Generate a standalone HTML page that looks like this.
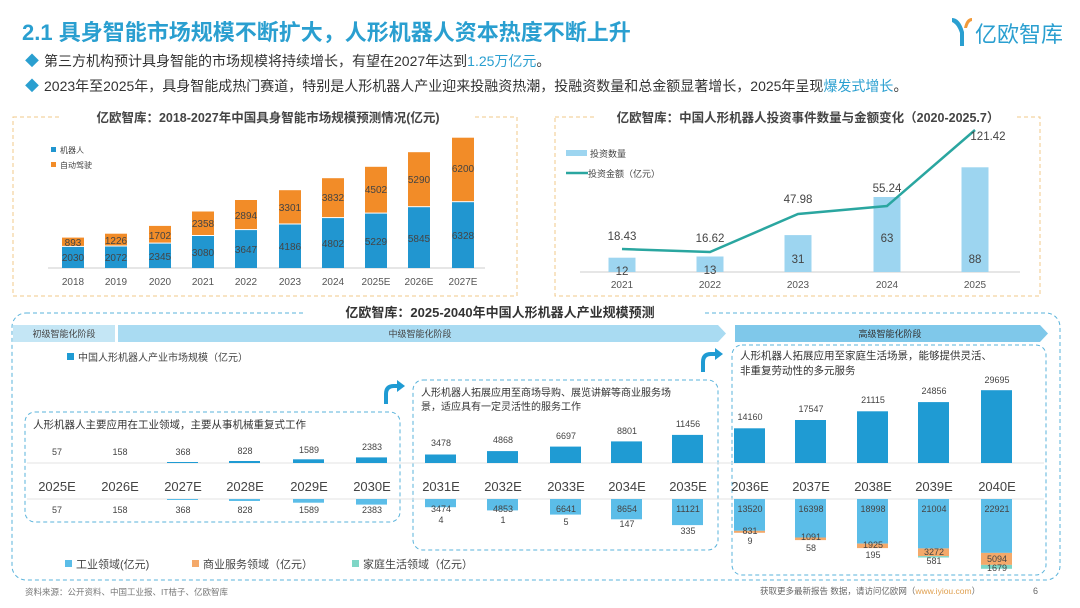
<!DOCTYPE html>
<html><head><meta charset="utf-8"><style>
body{margin:0;background:#fff;}
svg{display:block;font-family:"Liberation Sans","Noto Sans CJK SC",sans-serif;}
</style></head><body>
<svg width="1080" height="608" viewBox="0 0 1080 608" xmlns="http://www.w3.org/2000/svg">
<rect width="1080" height="608" fill="#fff"/>
<text x="22" y="40" font-size="22" font-weight="bold" fill="#2a9fd0">2.1 具身智能市场规模不断扩大，人形机器人资本热度不断上升</text>
<g fill="#2a9fd0"><path d="M952 18 q8 0 12 14 l0 14 l-4 0 l0 -13 q-3 -9 -8 -11z"/><path d="M972 18 q-6 0 -8 10 l3 0 q2 -7 5 -7z" fill="#f29a3a"/></g>
<text x="975" y="42" font-size="22" fill="#2a9fd0">亿欧智库</text>
<text x="25" y="66" font-size="14" fill="#2a9fd0">◆</text>
<text x="44" y="66" font-size="14" fill="#333">第三方机构预计具身智能的市场规模将持续增长，有望在2027年达到<tspan fill="#2a9fd0">1.25万亿元</tspan>。</text>
<text x="25" y="91" font-size="14" fill="#2a9fd0">◆</text>
<text x="44" y="91" font-size="14" fill="#333">2023年至2025年，具身智能成热门赛道，特别是人形机器人产业迎来投融资热潮，投融资数量和总金额显著增长，2025年呈现<tspan fill="#2a9fd0">爆发式增长</tspan>。</text>

<rect x="13" y="117" width="504" height="179" fill="none" stroke="#f0c98a" stroke-dasharray="4,3"/>
<rect x="62" y="108" width="412" height="18" fill="#fff"/>
<text x="268" y="122" font-size="12.5" font-weight="bold" fill="#444" text-anchor="middle">亿欧智库：2018-2027年中国具身智能市场规模预测情况(亿元)</text>
<rect x="51" y="147" width="5" height="5" fill="#2196d0"/><text x="60" y="153" font-size="8" fill="#444">机器人</text>
<rect x="51" y="162" width="5" height="5" fill="#f28c28"/><text x="60" y="168" font-size="8" fill="#444">自动驾驶</text>
<line x1="48" y1="268" x2="485" y2="268" stroke="#ccc"/>
<g fill="#2196d0">
<rect x="62" y="246.9" width="22" height="21.1"/><rect x="105" y="246.5" width="22" height="21.5"/><rect x="149" y="243.6" width="22" height="24.4"/><rect x="192" y="236" width="22" height="32"/><rect x="235" y="230.1" width="22" height="37.9"/><rect x="279" y="224.5" width="22" height="43.5"/><rect x="322" y="218.1" width="22" height="49.9"/><rect x="365" y="213.6" width="22" height="54.4"/><rect x="408" y="207.2" width="22" height="60.8"/><rect x="452" y="202.2" width="22" height="65.8"/>
</g>
<g fill="#f28c28">
<rect x="62" y="237.6" width="22" height="8.3"/><rect x="105" y="233.7" width="22" height="11.8"/><rect x="149" y="225.9" width="22" height="16.7"/><rect x="192" y="211.5" width="22" height="23.5"/><rect x="235" y="200" width="22" height="29.1"/><rect x="279" y="190.2" width="22" height="33.3"/><rect x="322" y="178.2" width="22" height="38.9"/><rect x="365" y="166.8" width="22" height="45.8"/><rect x="408" y="152.2" width="22" height="54"/><rect x="452" y="137.7" width="22" height="63.5"/>
</g>
<g font-size="10" fill="#444" text-anchor="middle">
<text x="73" y="261">2030</text><text x="116" y="261">2072</text><text x="160" y="260">2345</text><text x="203" y="256">3080</text><text x="246" y="253">3647</text><text x="290" y="250">4186</text><text x="333" y="247">4802</text><text x="376" y="245">5229</text><text x="419" y="242">5845</text><text x="463" y="239">6328</text>
<text x="73" y="246">893</text><text x="116" y="244">1226</text><text x="160" y="239">1702</text><text x="203" y="227">2358</text><text x="246" y="219">2894</text><text x="290" y="211">3301</text><text x="333" y="201">3832</text><text x="376" y="193">4502</text><text x="419" y="183">5290</text><text x="463" y="172">6200</text>
</g>
<g font-size="10" fill="#555" text-anchor="middle">
<text x="73" y="285">2018</text><text x="116" y="285">2019</text><text x="160" y="285">2020</text><text x="203" y="285">2021</text><text x="246" y="285">2022</text><text x="290" y="285">2023</text><text x="333" y="285">2024</text><text x="376" y="285">2025E</text><text x="419" y="285">2026E</text><text x="463" y="285">2027E</text>
</g>

<rect x="555" y="117" width="485" height="179" fill="none" stroke="#f0c98a" stroke-dasharray="4,3"/>
<rect x="595" y="108" width="420" height="18" fill="#fff"/>
<text x="808" y="122" font-size="12.5" font-weight="bold" fill="#444" text-anchor="middle">亿欧智库：中国人形机器人投资事件数量与金额变化（2020-2025.7）</text>
<rect x="566" y="150" width="21" height="6" fill="#9dd5f0"/><text x="590" y="157" font-size="9" fill="#444">投资数量</text>
<line x1="566" y1="173" x2="588" y2="173" stroke="#2aa6a0" stroke-width="2.5"/><text x="588" y="177" font-size="9" fill="#444">投资金额（亿元）</text>
<line x1="580" y1="272" x2="1020" y2="272" stroke="#ccc"/>
<g fill="#9dd5f0">
<rect x="608.5" y="257.7" width="27" height="14.3"/><rect x="696.5" y="256.5" width="27" height="15.5"/><rect x="784.5" y="235.1" width="27" height="36.9"/><rect x="873.5" y="197" width="27" height="75"/><rect x="961.5" y="167.3" width="27" height="104.7"/>
</g>
<polyline points="622,249 710,252 798,214 887,206 975,130" fill="none" stroke="#2aa6a0" stroke-width="2.5"/>
<g font-size="11.5" fill="#444" text-anchor="middle">
<text x="622" y="240">18.43</text><text x="710" y="242">16.62</text><text x="798" y="203">47.98</text><text x="887" y="192">55.24</text><text x="988" y="140">121.42</text>
<text x="622" y="275">12</text><text x="710" y="274">13</text><text x="798" y="263">31</text><text x="887" y="242">63</text><text x="975" y="263">88</text>
</g>
<g font-size="10" fill="#555" text-anchor="middle">
<text x="622" y="288">2021</text><text x="710" y="288">2022</text><text x="798" y="288">2023</text><text x="887" y="288">2024</text><text x="975" y="288">2025</text>
</g>

<rect x="12" y="313" width="1048" height="267" rx="14" fill="none" stroke="#5ab3db" stroke-dasharray="4,3"/>
<rect x="305" y="302" width="400" height="20" fill="#fff"/>
<text x="500" y="317" font-size="13" font-weight="bold" fill="#333" text-anchor="middle">亿欧智库：2025-2040年中国人形机器人产业规模预测</text>
<rect x="13" y="325" width="102" height="17" fill="#c4e6f5"/>
<text x="64" y="337" font-size="9" fill="#444" text-anchor="middle">初级智能化阶段</text>
<path d="M118 325 L718 325 L726 333.5 L718 342 L118 342 Z" fill="#a9dbf2"/>
<text x="420" y="337" font-size="9" fill="#444" text-anchor="middle">中级智能化阶段</text>
<path d="M735 325 L1040 325 L1048 333.5 L1040 342 L735 342 Z" fill="#7fc8ea"/>
<text x="890" y="337" font-size="9" fill="#333" text-anchor="middle">高级智能化阶段</text>
<rect x="67" y="353" width="7" height="7" fill="#1f9bd3"/>
<text x="78" y="361" font-size="10" fill="#444">中国人形机器人产业市场规模（亿元）</text>
<path d="M386 404 L386 394 Q386 386 394 386 L398 386" fill="none" stroke="#1f9bd3" stroke-width="4"/><path d="M397 380 L405 386 L397 392Z" fill="#1f9bd3"/>
<path d="M703 372 L703 362 Q703 354 711 354 L716 354" fill="none" stroke="#1f9bd3" stroke-width="4"/><path d="M715 348 L723 354 L715 360Z" fill="#1f9bd3"/>
<rect x="25" y="412" width="375" height="110" rx="10" fill="none" stroke="#5ab3db" stroke-dasharray="4,3"/>
<rect x="413" y="380" width="305" height="170" rx="10" fill="none" stroke="#5ab3db" stroke-dasharray="4,3"/>
<rect x="732" y="345" width="314" height="230" rx="10" fill="none" stroke="#5ab3db" stroke-dasharray="4,3"/>
<text x="33" y="428" font-size="10.5" fill="#333">人形机器人主要应用在工业领域，主要从事机械重复式工作</text>
<text x="421" y="396" font-size="10" fill="#333">人形机器人拓展应用至商场导购、展览讲解等商业服务场</text>
<text x="421" y="410" font-size="10" fill="#333">景，适应具有一定灵活性的服务工作</text>
<text x="740" y="359" font-size="10.5" fill="#333">人形机器人拓展应用至家庭生活场景，能够提供灵活、</text>
<text x="740" y="374" font-size="10.5" fill="#333">非重复劳动性的多元服务</text>
<line x1="27" y1="463" x2="1044" y2="463" stroke="#e3e3e3"/>
<line x1="27" y1="499" x2="1044" y2="499" stroke="#e3e3e3"/>
<g fill="#1f9bd3">
<rect x="167" y="462" width="31" height="1"/><rect x="229" y="461" width="31" height="2"/><rect x="293" y="459.3" width="31" height="3.7"/><rect x="356" y="457.4" width="31" height="5.6"/>
<rect x="425" y="454.5" width="31" height="8.5"/><rect x="487" y="451.1" width="31" height="11.9"/><rect x="550" y="446.6" width="31" height="16.4"/><rect x="611" y="441.4" width="31" height="21.6"/><rect x="672" y="434.9" width="31" height="28.1"/>
<rect x="734" y="428.3" width="31" height="34.7"/><rect x="795" y="420" width="31" height="43"/><rect x="857" y="411.3" width="31" height="51.7"/><rect x="918" y="402.1" width="31" height="60.9"/><rect x="981" y="390.2" width="31" height="72.8"/>
</g>
<g font-size="9" fill="#444" text-anchor="middle">
<text x="57" y="455">57</text><text x="120" y="455">158</text><text x="183" y="455">368</text><text x="245" y="454">828</text><text x="309" y="453">1589</text><text x="372" y="450">2383</text>
<text x="441" y="446">3478</text><text x="503" y="443">4868</text><text x="566" y="439">6697</text><text x="627" y="434">8801</text><text x="688" y="427">11456</text>
<text x="750" y="420">14160</text><text x="811" y="412">17547</text><text x="873" y="403">21115</text><text x="934" y="394">24856</text><text x="997" y="383">29695</text>
</g>
<g font-size="13" fill="#444" text-anchor="middle">
<text x="57" y="491">2025E</text><text x="120" y="491">2026E</text><text x="183" y="491">2027E</text><text x="245" y="491">2028E</text><text x="309" y="491">2029E</text><text x="372" y="491">2030E</text>
<text x="441" y="491">2031E</text><text x="503" y="491">2032E</text><text x="566" y="491">2033E</text><text x="627" y="491">2034E</text><text x="688" y="491">2035E</text>
<text x="750" y="491">2036E</text><text x="811" y="491">2037E</text><text x="873" y="491">2038E</text><text x="934" y="491">2039E</text><text x="997" y="491">2040E</text>
</g>
<g fill="#5bbde8">
<rect x="167" y="499" width="31" height="1"/><rect x="229" y="499" width="31" height="2"/><rect x="293" y="499" width="31" height="3.7"/><rect x="356" y="499" width="31" height="5.6"/>
<rect x="425" y="499" width="31" height="8.2"/><rect x="487" y="499" width="31" height="11.4"/><rect x="550" y="499" width="31" height="15.6"/><rect x="611" y="499" width="31" height="20.3"/><rect x="672" y="499" width="31" height="26.1"/>
<rect x="734" y="499" width="31" height="31.8"/><rect x="795" y="499" width="31" height="38.5"/><rect x="857" y="499" width="31" height="44.6"/><rect x="918" y="499" width="31" height="49.4"/><rect x="981" y="499" width="31" height="53.9"/>
</g>
<g fill="#f4a96a">
<rect x="734" y="530.8" width="31" height="2"/><rect x="795" y="537.5" width="31" height="2.6"/><rect x="857" y="543.6" width="31" height="4.5"/><rect x="918" y="548.4" width="31" height="7.7"/><rect x="981" y="552.9" width="31" height="12"/>
</g>
<g fill="#7fd6c6">
<rect x="918" y="556.1" width="31" height="1.4"/><rect x="981" y="564.9" width="31" height="3.9"/>
</g>
<g font-size="9" fill="#444" text-anchor="middle">
<text x="57" y="513">57</text><text x="120" y="513">158</text><text x="183" y="513">368</text><text x="245" y="513">828</text><text x="309" y="513">1589</text><text x="372" y="513">2383</text>
<text x="441" y="512">3474</text><text x="441" y="523">4</text><text x="503" y="512">4853</text><text x="503" y="523">1</text>
<text x="566" y="512">6641</text><text x="566" y="525">5</text><text x="627" y="512">8654</text><text x="627" y="527">147</text><text x="688" y="512">11121</text><text x="688" y="534">335</text>
<text x="750" y="512">13520</text><text x="750" y="534">831</text><text x="750" y="544">9</text>
<text x="811" y="512">16398</text><text x="811" y="540">1091</text><text x="811" y="551">58</text>
<text x="873" y="512">18998</text><text x="873" y="548">1925</text><text x="873" y="558">195</text>
<text x="934" y="512">21004</text><text x="934" y="555">3272</text><text x="934" y="564">581</text>
<text x="997" y="512">22921</text><text x="997" y="562">5094</text><text x="997" y="571">1679</text>
</g>
<rect x="65" y="560" width="7" height="7" fill="#5bbde8"/><text x="76" y="568" font-size="11" fill="#444">工业领域(亿元)</text>
<rect x="192" y="560" width="7" height="7" fill="#f4a96a"/><text x="203" y="568" font-size="11" fill="#444">商业服务领域（亿元）</text>
<rect x="352" y="560" width="7" height="7" fill="#7fd6c6"/><text x="363" y="568" font-size="11" fill="#444">家庭生活领域（亿元）</text>
<text x="25" y="595" font-size="8.5" fill="#777">资料来源：公开资料、中国工业报、IT桔子、亿欧智库</text>
<text x="760" y="594" font-size="8.5" fill="#666">获取更多最新报告 数据，请访问亿欧网（<tspan fill="#e0a050">www.iyiou.com</tspan>）</text>
<text x="1033" y="594" font-size="9" fill="#666">6</text>
</svg>
</body></html>
